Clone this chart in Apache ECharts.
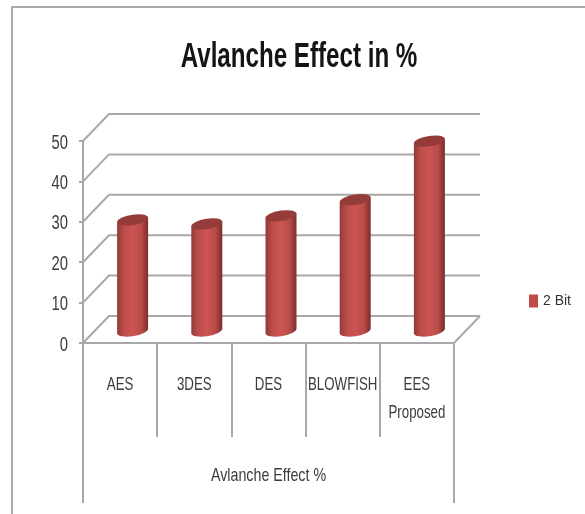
<!DOCTYPE html>
<html>
<head>
<meta charset="utf-8">
<style>html,body{margin:0;padding:0;background:#fff}#chart{width:585px;height:514px}</style>
<script src="https://cdn.jsdelivr.net/npm/echarts@6/dist/echarts.min.js"></script>
</head>
<body>
<div id="chart"></div>
<script>
const titleText = 'Avlanche Effect in %';
const groupLabel = 'Avlanche Effect %';
const seriesName = '2 Bit';
const categories = ['AES', '3DES', 'DES', 'BLOWFISH', 'EES\nProposed'];
const avalanche = [27.5, 26.5, 28.5, 32.5, 47];
const yTicks = [0, 10, 20, 30, 40, 50];

const FONT = '"Liberation Sans",sans-serif';
const GRID_COLOR = '#a8a8a8';
const TEXT_COLOR = '#3c3c3c';
// Oblique offset from the front plane to the back wall
const DEPTH_X = 26, DEPTH_Y = -27;
// Cylinders stand halfway into the floor
const MID_X = 12.5, MID_Y = -12;
const RADIUS_X = 15.5, TILT_Y = 2.45, ELLIPSE_RX = 15.7, ELLIPSE_RY = 5.4;

const chart = echarts.init(document.getElementById('chart'), null, { renderer: 'canvas' });

// One gridline running across the side wall and the back wall, plus its tick label
function wallLine(params, api) {
  const cs = params.coordSys;
  const value = api.value(0);
  const y = api.coord([0, value])[1];
  const line = { stroke: GRID_COLOR, lineWidth: 2, fill: null };
  const pts = [[cs.x, y], [cs.x + DEPTH_X, y + DEPTH_Y], [cs.x + cs.width + DEPTH_X, y + DEPTH_Y]];
  const children = [
    { type: 'polyline', shape: { points: pts }, style: line },
    {
      type: 'text', x: cs.x - 15, y: y + 2, scaleX: 0.74,
      style: {
        text: String(value), fontFamily: FONT, fontSize: 20, fill: TEXT_COLOR,
        align: 'right', verticalAlign: 'middle'
      }
    }
  ];
  if (value === 0) {
    children.push({
      type: 'line',
      shape: { x1: cs.x + cs.width, y1: y, x2: cs.x + cs.width + DEPTH_X, y2: y + DEPTH_Y },
      style: line
    });
  }
  return { type: 'group', children };
}

function cylinder(params, api) {
  const i = api.value(0);
  const top = api.coord([i, api.value(1)]);
  const base = api.coord([i, 0]);
  const cx = top[0] + MID_X, ty = top[1] + MID_Y, by = base[1] + MID_Y;
  const lx = cx - RADIUS_X, rx = cx + RADIUS_X;
  const arc = `${ELLIPSE_RX} ${ELLIPSE_RY} -9`;
  const bodyPath = `M${lx} ${ty + TILT_Y} L${rx} ${ty - TILT_Y} L${rx} ${by - TILT_Y} A${arc} 0 1 ${lx} ${by + TILT_Y} Z`;
  const capPath = `M${lx} ${ty + TILT_Y} A${arc} 0 1 ${rx} ${ty - TILT_Y} A${arc} 0 1 ${lx} ${ty + TILT_Y} Z`;
  return {
    type: 'group',
    children: [
      {
        type: 'path',
        shape: { pathData: bodyPath },
        style: {
          fill: new echarts.graphic.LinearGradient(0, 0, 1, 0, [
            { offset: 0, color: '#8f3936' },
            { offset: 0.22, color: '#bd4d4a' },
            { offset: 0.5, color: '#cc5552' },
            { offset: 0.78, color: '#b94b48' },
            { offset: 0.93, color: '#8a3634' },
            { offset: 1, color: '#7c2f2d' }
          ])
        }
      },
      { type: 'path', shape: { pathData: capPath }, style: { fill: '#953b39' } }
    ]
  };
}

function categoryLabel(params, api) {
  const i = api.value(0);
  const p = api.coord([i, 0]);
  return {
    type: 'text', x: p[0], y: p[1] + 28, scaleX: 0.7,
    style: {
      text: categories[i], fontFamily: FONT, fontSize: 19, lineHeight: 28,
      fill: TEXT_COLOR, align: 'center', verticalAlign: 'top'
    }
  };
}

// Outer bracket of the multi-level category axis and its group caption
function groupBracket(params, api) {
  const cs = params.coordSys;
  const bottom = cs.y + cs.height;
  const line = { stroke: GRID_COLOR, lineWidth: 2 };
  return {
    type: 'group',
    children: [
      { type: 'line', shape: { x1: cs.x, y1: bottom, x2: cs.x, y2: bottom + 160 }, style: line },
      { type: 'line', shape: { x1: cs.x + cs.width, y1: bottom, x2: cs.x + cs.width, y2: bottom + 160 }, style: line },
      {
        type: 'text', x: cs.x + cs.width / 2, y: bottom + 133, scaleX: 0.75,
        style: { text: groupLabel, fontFamily: FONT, fontSize: 19, fill: TEXT_COLOR, align: 'center', verticalAlign: 'middle' }
      }
    ]
  };
}

chart.setOption({
  animation: false,
  backgroundColor: '#ffffff',
  grid: { left: 83, right: 131, top: 141, bottom: 171, containLabel: false },
  legend: {
    data: [seriesName], left: 529, top: 294, padding: 0, itemWidth: 9, itemHeight: 13, itemGap: 4,
    icon: 'rect', selectedMode: false,
    textStyle: { fontFamily: FONT, fontSize: 14, color: '#333333' }
  },
  xAxis: {
    type: 'category', data: categories,
    axisLine: { lineStyle: { color: GRID_COLOR, width: 2 } },
    axisTick: { show: true, interval: 0, length: 94, lineStyle: { color: GRID_COLOR, width: 2 } },
    axisLabel: { show: false },
    splitLine: { show: false }
  },
  yAxis: {
    type: 'value', min: 0, max: 50, interval: 10,
    axisLine: { show: true, lineStyle: { color: GRID_COLOR, width: 2 } },
    axisTick: { show: true, length: 4, lineStyle: { color: GRID_COLOR, width: 2 } },
    axisLabel: { show: false },
    splitLine: { show: false }
  },
  graphic: [
    {
      type: 'polyline', silent: true,
      shape: { points: [[12, 514], [12, 7], [585, 7]] },
      style: { stroke: '#ababab', lineWidth: 2, fill: null }
    },
    {
      type: 'text', x: 299, y: 57, scaleX: 0.69, silent: true,
      style: {
        text: titleText, fontFamily: FONT, fontWeight: 'bold', fontSize: 35,
        fill: '#141414', align: 'center', verticalAlign: 'middle'
      }
    }
  ],
  series: [
    { type: 'custom', silent: true, z: 1, data: yTicks.map(v => [v]), renderItem: wallLine, encode: { y: 0 } },
    { type: 'custom', silent: true, z: 1, data: [[0]], renderItem: groupBracket },
    {
      type: 'custom', silent: true, z: 1,
      data: categories.map((c, i) => [i]), renderItem: categoryLabel, encode: { x: 0 }
    },
    {
      type: 'custom', name: seriesName, silent: true, z: 3,
      itemStyle: { color: '#be4b48' },
      data: avalanche.map((v, i) => [i, v]), renderItem: cylinder, encode: { x: 0, y: 1 }
    }
  ]
});
</script>
</body>
</html>
